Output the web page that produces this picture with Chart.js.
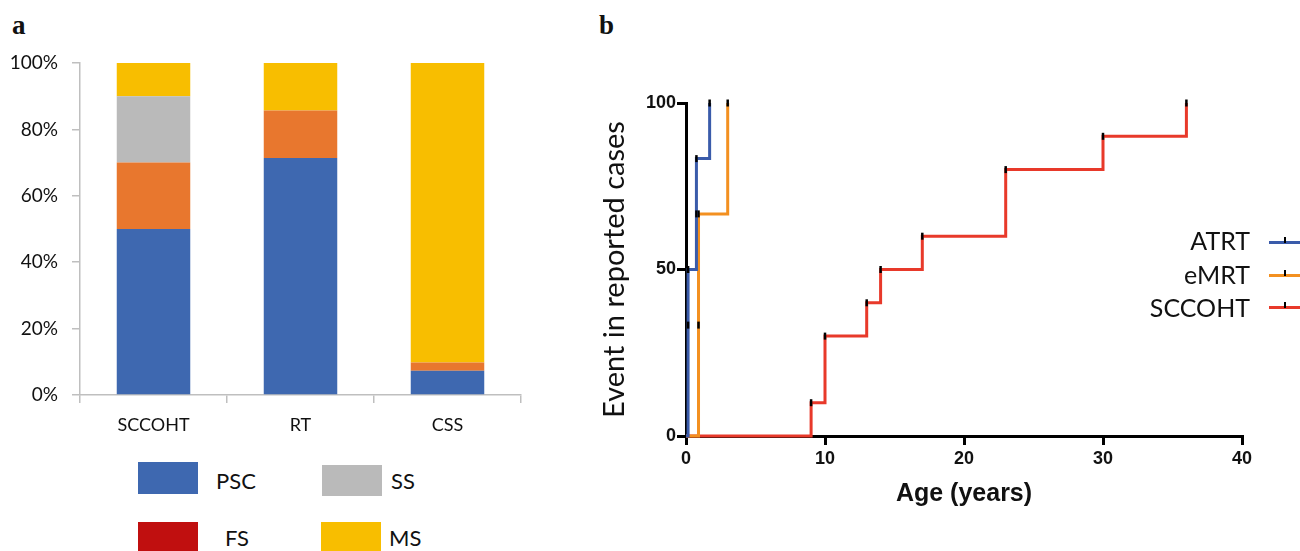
<!DOCTYPE html>
<html><head><meta charset="utf-8">
<script src="https://cdn.jsdelivr.net/npm/chart.js@4"></script>
<style>
html,body{margin:0;padding:0;background:#fff;width:1300px;height:551px;overflow:hidden;}
body{position:relative;font-family:Lato,"Open Sans",sans-serif;color:#111;}
.panel{position:absolute;}
.plab{position:absolute;font-family:"Liberation Serif",serif;font-weight:bold;font-size:27px;line-height:1;}
.box{position:absolute;}
.ltxt{position:absolute;font-size:22px;line-height:1;transform:translateY(-50%);}
.btxt{position:absolute;font-size:25px;line-height:1;transform:translateY(-50%);text-align:right;width:140px;}
.bline{position:absolute;height:3px;width:31px;}
.btick{position:absolute;width:2px;height:6px;background:#000;}
</style></head>
<body>
<div class="plab" style="left:12px;top:12px;">a</div>
<div class="plab" style="left:599px;top:12px;">b</div>

<div class="panel" style="left:0;top:0;width:541px;height:450px;"><canvas id="ca"></canvas></div>
<div class="panel" style="left:590px;top:0;width:710px;height:551px;"><canvas id="cb"></canvas></div>

<!-- legend a -->
<div class="box" style="left:138px;top:462px;width:60px;height:32px;background:#3E68B0;"></div>
<div class="ltxt" style="left:216px;top:481px;">PSC</div>
<div class="box" style="left:322px;top:465px;width:60px;height:31px;background:#BABABA;"></div>
<div class="ltxt" style="left:391px;top:481px;">SS</div>
<div class="box" style="left:138px;top:522px;width:60px;height:32px;background:#C00F0F;"></div>
<div class="ltxt" style="left:225px;top:538px;">FS</div>
<div class="box" style="left:321px;top:522px;width:60px;height:32px;background:#F8BE00;"></div>
<div class="ltxt" style="left:389px;top:538px;">MS</div>

<!-- legend b -->
<div class="btxt" style="left:1110px;top:240px;">ATRT</div>
<div class="bline" style="left:1269px;top:241px;background:#3A5BAA;"></div><div class="btick" style="left:1284px;top:237px;"></div>
<div class="btxt" style="left:1110px;top:274px;">eMRT</div>
<div class="bline" style="left:1269px;top:274px;background:#F39020;"></div><div class="btick" style="left:1284px;top:270px;"></div>
<div class="btxt" style="left:1110px;top:307px;">SCCOHT</div>
<div class="bline" style="left:1269px;top:306px;background:#E8392A;"></div><div class="btick" style="left:1284px;top:302px;"></div>

<script>
// ---- Panel a data ----
const barCategories = ['SCCOHT', 'RT', 'CSS'];
const pscValues = [50, 71.4, 7.3];
const fsValues = [20, 14.3, 2.5];
const ssValues = [20, 0, 0];
const msValues = [10, 14.3, 90.2];
const pctTicks = [0, 20, 40, 60, 80, 100];

// ---- Panel b data ----
const atrtAge = [0, 0.15, 0.15, 0.75, 0.75, 1.7];
const atrtEvent = [0, 33.3, 50, 66.7, 83.3, 100];
const emrtAge = [0, 0.9, 0.9, 3];
const emrtEvent = [0, 33.3, 66.7, 100];
const sccohtAge = [0, 9, 10, 13, 14, 17, 23, 30, 36];
const sccohtEvent = [0, 10, 30, 40, 50, 60, 80, 90, 100];

Chart.defaults.animation = false;

new Chart(document.getElementById('ca'), {
  type: 'bar',
  data: {
    labels: barCategories,
    datasets: [
      {label: 'PSC', data: pscValues, backgroundColor: '#3E68B0'},
      {label: 'FS', data: fsValues, backgroundColor: '#E8772E'},
      {label: 'SS', data: ssValues, backgroundColor: '#BABABA'},
      {label: 'MS', data: msValues, backgroundColor: '#F8BE00'}
    ]
  },
  options: {
    responsive: true, maintainAspectRatio: false,
    layout: {padding: {top: 63, right: 20, left: 0, bottom: 0}},
    datasets: {bar: {categoryPercentage: 1, barPercentage: 0.5, borderWidth: 0}},
    plugins: {legend: {display: false}, tooltip: {enabled: false}},
    scales: {
      x: {
        stacked: true,
        afterFit: s => { s.height = 55; },
        border: {color: '#BFBFBF', width: 1.5},
        grid: {offset: true, drawOnChartArea: false, drawTicks: true, tickLength: 8, color: '#BFBFBF', lineWidth: 1.5},
        ticks: {padding: 11, color: '#111', font: {family: 'Lato', size: 18}}
      },
      y: {
        stacked: true, min: 0, max: 100,
        afterFit: s => { s.width = 80; },
        afterBuildTicks: s => { s.ticks = pctTicks.map(v => ({value: v})); },
        border: {color: '#BFBFBF', width: 1.5},
        grid: {drawOnChartArea: false, drawTicks: true, tickLength: 8, color: '#BFBFBF', lineWidth: 1.5},
        ticks: {padding: 14, color: '#111', font: {family: 'Lato', size: 19}, callback: v => v + '%'}
      }
    }
  }
});

const toPts = (xs, ys) => xs.map((x, i) => ({x: x, y: ys[i]}));
const radii = n => Array.from({length: n}, (_, i) => i === 0 ? 0 : 3.5);
const mkSet = (label, xs, ys, color) => ({
  label, data: toPts(xs, ys), borderColor: color, backgroundColor: color,
  borderWidth: 3, stepped: true, fill: false, clip: false,
  pointStyle: 'line', rotation: 90, pointRadius: radii(xs.length),
  pointBorderColor: '#000', pointBorderWidth: 2.5, pointHoverRadius: 0
});

new Chart(document.getElementById('cb'), {
  type: 'line',
  data: {
    datasets: [
      mkSet('ATRT', atrtAge, atrtEvent, '#3A5BAA'),
      mkSet('eMRT', emrtAge, emrtEvent, '#F39020'),
      mkSet('SCCOHT', sccohtAge, sccohtEvent, '#E8392A')
    ]
  },
  options: {
    responsive: true, maintainAspectRatio: false,
    layout: {padding: {top: 103, right: 58, left: 0, bottom: 0}},
    plugins: {legend: {display: false}, tooltip: {enabled: false}},
    scales: {
      x: {
        type: 'linear', min: 0, max: 40,
        afterFit: s => { s.height = 115; },
        border: {color: '#000', width: 3},
        grid: {drawOnChartArea: false, drawTicks: true, tickLength: 9, color: '#000', lineWidth: 3},
        ticks: {stepSize: 10, padding: 3, color: '#111', font: {family: 'Liberation Sans', size: 18, weight: 'bold'}},
        title: {display: true, text: 'Age (years)', color: '#111', padding: {top: 0, bottom: 42}, font: {family: 'Liberation Sans', size: 25, weight: 'bold'}}
      },
      y: {
        type: 'linear', min: 0, max: 100,
        afterFit: s => { s.width = 96; },
        border: {color: '#000', width: 3},
        grid: {drawOnChartArea: false, drawTicks: true, tickLength: 9, color: '#000', lineWidth: 3},
        ticks: {stepSize: 50, padding: 1, color: '#111', font: {family: 'Liberation Sans', size: 18, weight: 'bold'}},
        title: {display: true, text: 'Event in reported cases', color: '#111', padding: {top: 7, bottom: 0}, font: {family: 'Lato', size: 29}}
      }
    }
  }
});
</script>
</body></html>
